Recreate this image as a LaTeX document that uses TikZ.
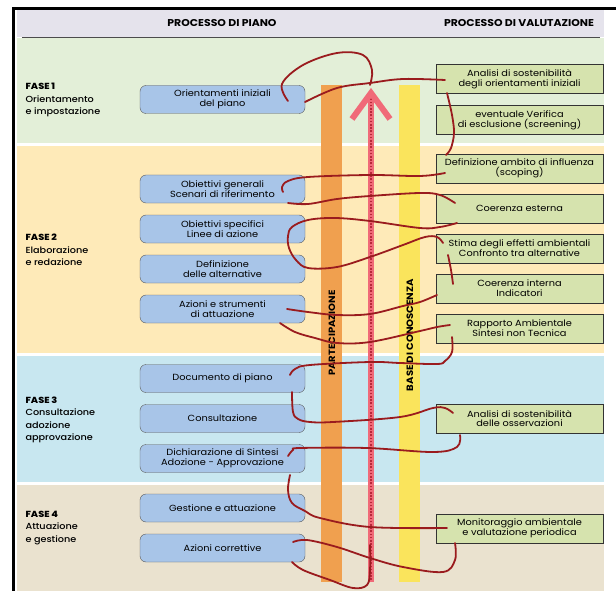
\documentclass[tikz,border=0pt]{standalone}
\usepackage{fontspec}
\setmainfont{Poppins}[FakeStretch=1.1]
\newfontfamily\fasefont{Poppins Medium}[FakeStretch=1.1]
\usetikzlibrary{positioning}

\definecolor{headcol}{HTML}{E5E3EC}
\definecolor{fasegreen}{HTML}{E3EFD8}
\definecolor{faseyellow}{HTML}{FEEAB8}
\definecolor{faseblue}{HTML}{C8E7F0}
\definecolor{fasebeige}{HTML}{EAE2CF}
\definecolor{pianoblue}{HTML}{A8C5E8}
\definecolor{valgreen}{HTML}{D6E3AE}
\definecolor{partorange}{HTML}{F0A04F}
\definecolor{arrowpink}{HTML}{F06A78}
\definecolor{dotred}{HTML}{B8283A}
\definecolor{basegold}{HTML}{FAE45C}
\definecolor{helixred}{HTML}{9A1B1E}

\begin{document}
\begin{tikzpicture}[x=1pt, y=-1pt, node distance=40pt, on grid,
  piano/.style={rectangle, rounded corners=6pt, draw=black!65, fill=pianoblue,
    minimum width=165pt, minimum height=28pt, inner sep=0pt, align=center,
    font=\fontsize{8.9}{9.8}\selectfont},
  valut/.style={rectangle, draw=black!80, fill=valgreen,
    minimum width=167pt, minimum height=29pt, inner sep=0pt, align=center,
    font=\fontsize{8.9}{9.8}\selectfont},
  fase/.style={anchor=west, align=left, font=\fontsize{8.8}{12.4}\selectfont\fasefont},
  bar/.style={minimum width=21pt, inner sep=0pt},
  helix/.style={draw=helixred, line width=1.8pt, line cap=round, line join=round}]
  \useasboundingbox (0,0) rectangle (616,591);

  % fasce
  \fill[headcol] (17,10) rectangle (604,37);
  \fill[fasegreen] (17,38) rectangle (604,143);
  \fill[faseyellow] (17,146) rectangle (604,353);
  \fill[faseblue] (17,356) rectangle (604,482);
  \fill[fasebeige] (17,485) rectangle (604,591);
  \draw[black!70, line width=0.8pt] (22,37.5) -- (600,37.5);
  \draw[line width=3pt] (13.5,591) -- (13.5,8.5) -- (616,8.5);

  \node[font=\fontsize{9.9}{11}\selectfont\bfseries] (hpiano) at (222,23) {PROCESSO DI PIANO};
  \node[font=\fontsize{9.9}{11}\selectfont\bfseries] (hval) at (519,23) {PROCESSO DI VALUTAZIONE};

  \node[fase] (f1) at (22,100) {\textbf{FASE 1}\\Orientamento\\e impostazione};
  \node[fase] (f2) at (22,250) {\textbf{FASE 2}\\Elaborazione\\e redazione};
  \node[fase] (f3) at (22,420) {\textbf{FASE 3}\\Consultazione\\adozione\\approvazione};
  \node[fase] (f4) at (22,528) {\textbf{FASE 4}\\Attuazione\\e gestione};

  % barre
  \fill[partorange] (321,85) rectangle (342,582);
  \fill[basegold] (399,85) rectangle (420,582);
  \draw[arrowpink, line width=6pt] (371,582) -- (371,92);
  \draw[dotred, line width=2pt, dash pattern=on 1.6pt off 1.6pt] (371,580) -- (371,94);
  \draw[arrowpink, line width=6pt, line join=miter] (352,119) -- (371,93) -- (390,119);
  \node[bar, rotate=90, font=\fontsize{9.1}{10}\selectfont\bfseries] (part) at (332,333) {PARTECIPAZIONE};
  \node[bar, rotate=90, font=\fontsize{9.2}{10}\selectfont\bfseries] (base) at (410,335) {BASE DI CONOSCENZA};

  % processo di piano
  \node[piano] (orient) at (222.5,99.5) {Orientamenti iniziali\\del piano};
  \node[piano] (ogen) at (222.5,189) {Obiettivi generali\\Scenari di riferimento};
  \node[piano] (ospec) [below=of ogen] {Obiettivi specifici\\Linee di azione};
  \node[piano] (alter) [below=of ospec] {Definizione\\delle alternative};
  \node[piano] (azioni) [below=of alter] {Azioni e strumenti\\di attuazione};
  \node[piano] (docum) at (222.5,378.5) {Documento di piano};
  \node[piano] (consul) [below=of docum] {Consultazione};
  \node[piano] (dichiar) [below=of consul] {Dichiarazione di Sintesi\\Adozione - Approvazione};
  \node[piano] (gestione) at (222.5,508) {Gestione e attuazione};
  \node[piano] (corrett) [below=of gestione] {Azioni correttive};

  % processo di valutazione
  \node[valut] (analisi) at (519.5,79) {Analisi di sostenibilità\\degli orientamenti iniziali};
  \node[valut] (screen) [below=41pt of analisi] {eventuale Verifica\\di esclusione (screening)};
  \node[valut] (scoping) at (519.5,168.5) {Definizione ambito di influenza\\(scoping)};
  \node[valut] (coest) [below=of scoping] {Coerenza esterna};
  \node[valut] (stima) [below=of coest] {Stima degli effetti ambientali\\Confronto tra alternative};
  \node[valut] (coint) [below=of stima] {Coerenza interna\\Indicatori};
  \node[valut] (rapporto) [below=of coint] {Rapporto Ambientale\\Sintesi non Tecnica};
  \node[valut] (osserv) at (519.5,418.5) {Analisi di sostenibilità\\delle osservazioni};
  \node[valut] (monit) at (519.5,528.5) {Monitoraggio ambientale\\e valutazione periodica};

  % spirale
  \draw[helix] plot[smooth, tension=0.6] coordinates {(288,101) (282,84) (303,65) (337,53) (363,55) (372,70) (370,85)};
  \draw[helix] plot[smooth, tension=0.6] coordinates {(305,102) (337,88) (370,83) (403,79) (445,80)};
  \draw[helix] plot[smooth, tension=0.6] coordinates {(447,93) (452,115) (454,133) (451,148) (446,155)};
  \draw[helix] plot[smooth, tension=0.6] coordinates {(445,173) (420,176) (370,175) (308,177) (288,181) (282,187) (283,192)};
  \draw[helix] plot[smooth, tension=0.6] coordinates {(288,203) (308,204) (337,199) (370,196) (420,193) (440,195) (455,203)};
  \draw[helix] plot[smooth, tension=0.6] coordinates {(457,223) (440,227) (420,228) (370,221) (335,218) (308,220) (292,227) (288,236) (289,248) (296,260) (308,268) (337,267) (370,257) (403,245) (425,237) (437,237) (443,243)};
  \draw[helix] plot[smooth, tension=0.6] coordinates {(448,255) (451,270) (453,284)};
  \draw[helix] plot[smooth, tension=0.6] coordinates {(437,295) (420,302) (403,306) (370,314) (337,315) (308,312) (287,309)};
  \draw[helix] plot[smooth, tension=0.6] coordinates {(280,323) (295,332) (315,338) (337,343) (370,342) (420,331) (437,327) (450,325)};
  \draw[helix] plot[smooth, tension=0.6] coordinates {(452,337) (452,352) (445,361) (437,364) (400,363) (370,362) (310,365) (295,369) (290,375)};
  \draw[helix] plot[smooth, tension=0.6] coordinates {(292,392) (293,412) (298,419) (310,422) (333,422) (400,417) (433,408) (445,408) (453,413)};
  \draw[helix] plot[smooth, tension=0.6] coordinates {(460,435) (457,447) (433,452) (367,448) (300,448) (293,450) (288,456)};
  \draw[helix] plot[smooth, tension=0.6] coordinates {(290,475) (288,490) (292,503) (305,511) (320,518) (370,527) (447,528)};
  \draw[helix] plot[smooth, tension=0.6] coordinates {(455,543) (455,560) (443,572) (403,567) (370,558) (337,547) (307,540) (293,542)};
  \draw[helix] plot[smooth, tension=0.6] coordinates {(292,562) (303,570) (330,580) (353,588) (367,585) (370,570) (370,545)};
\end{tikzpicture}
\end{document}
